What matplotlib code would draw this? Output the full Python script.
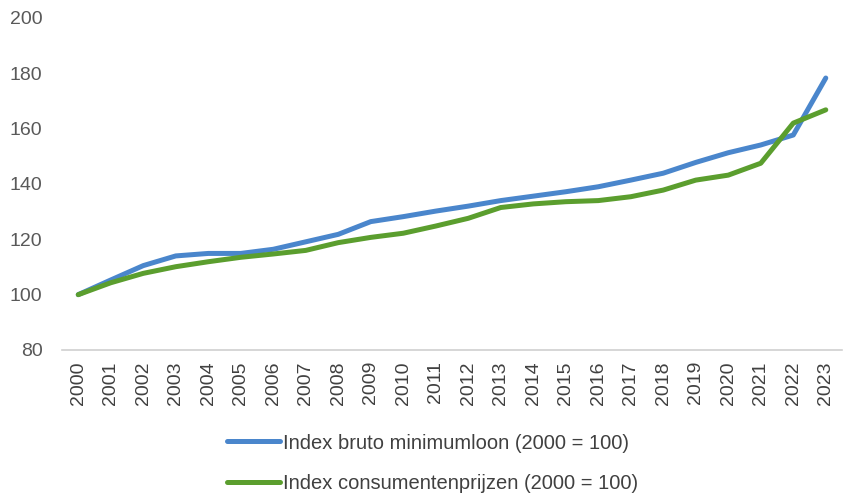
import matplotlib
matplotlib.use("Agg")
import matplotlib.pyplot as plt

# jaren en indexcijfers (2000 = 100)
years = [str(y) for y in range(2000, 2024)]
minimumloon = [100, 105.3, 110.5, 114.0, 114.9, 114.9, 116.4, 119.1, 121.8, 126.4,
               128.2, 130.2, 132.0, 134.0, 135.6, 137.2, 139.0, 141.4, 143.9, 147.8,
               151.3, 154.1, 157.7, 178.3]
cpi = [100, 104.3, 107.7, 110.1, 111.9, 113.5, 114.7, 116.0, 118.8, 120.7,
       122.2, 124.8, 127.6, 131.5, 132.8, 133.6, 134.0, 135.4, 137.8, 141.4,
       143.2, 147.5, 162.0, 166.8]
yticks = [80, 100, 120, 140, 160, 180, 200]

plt.rcParams['font.family'] = ['Liberation Sans', 'DejaVu Sans']

fig = plt.figure(figsize=(8.46, 4.97), dpi=100)
ax = fig.add_axes([0.0733, 0.2958, 0.922, 0.668])

x = list(range(len(years)))
ax.plot(x, minimumloon, color='#4A86CC', lw=3.6, solid_capstyle='round',
        label='Index bruto minimumloon (2000 = 100)')
ax.plot(x, cpi, color='#5B9E2E', lw=3.6, solid_capstyle='round',
        label='Index consumentenprijzen (2000 = 100)')

ax.set_xlim(-0.5, len(years) - 0.5)
ax.set_ylim(80, 200)
ax.set_yticks(yticks)
ax.set_xticks(x)
ax.set_xticklabels(years, rotation=90)

for s in ['top', 'right', 'left']:
    ax.spines[s].set_visible(False)
ax.spines['bottom'].set_color('#D0D0D0')
ax.spines['bottom'].set_linewidth(1.2)
ax.tick_params(axis='y', length=0, pad=14, labelsize=14, labelcolor='#595959')
ax.tick_params(axis='x', length=0, pad=8, labelsize=14, labelcolor='#404040')

fig.legend(loc='upper center', bbox_to_anchor=(0.511, 0.148), ncol=1, frameon=False,
           fontsize=14.5, labelcolor='#404040', handlelength=2.65, handletextpad=0.15,
           labelspacing=1.05, borderpad=0)

fig.savefig('out.png', dpi=100)
